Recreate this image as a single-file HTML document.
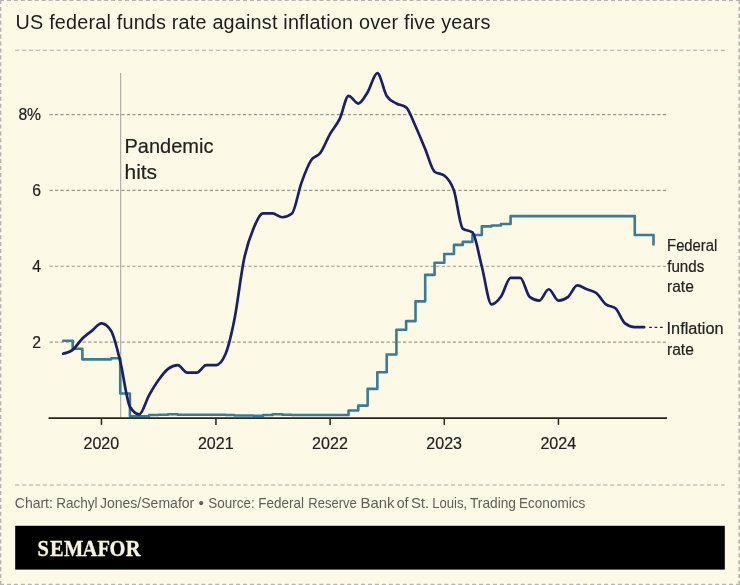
<!DOCTYPE html>
<html lang="en">
<head>
<meta charset="utf-8">
<title>US federal funds rate against inflation over five years</title>
<style>
html,body{margin:0;padding:0;background:#FCF9E7;}
body{width:740px;height:585px;overflow:hidden;}
svg{display:block;}
text{font-family:"Liberation Sans",Arial,Helvetica,sans-serif;}
.ax{font-size:17px;fill:#222;stroke:#222;stroke-width:0.2px;}
.lab{font-size:16px;fill:#222;stroke:#222;stroke-width:0.2px;}
.grid{stroke:#9b9a8e;stroke-width:1.15;stroke-dasharray:3.2 2.325;fill:none;}
.sep{stroke:#adaca2;stroke-width:1.1;stroke-dasharray:4.2 2.7186;fill:none;}
</style>
</head>
<body>
<svg width="740" height="585" viewBox="0 0 740 585">
<rect x="0" y="0" width="740" height="585" fill="#FCF9E7"/>
<!-- outer dashed frame -->
<g stroke="#b7b6ae" fill="none">
<line x1="0" y1="0.5" x2="740" y2="0.5" stroke-width="1.1" stroke-dasharray="4.05 2.893"/>
<line x1="0" y1="584.4" x2="740" y2="584.4" stroke-width="1.3" stroke-dasharray="4.05 2.893"/>
<line x1="0.7" y1="0" x2="0.7" y2="585" stroke-width="1.4" stroke-dasharray="4.05 2.866"/>
<line x1="739.2" y1="0" x2="739.2" y2="585" stroke-width="1.6" stroke-dasharray="4.05 2.866"/>
</g>

<!-- title -->
<text transform="translate(15.6,28.6) scale(1,1.04)" font-size="19.8" fill="#1d1d1d" textLength="474.8" lengthAdjust="spacing">US federal funds rate against inflation over five years</text>
<line class="sep" x1="15.1" y1="50.3" x2="725" y2="50.3"/>

<!-- gridlines -->
<g class="grid">
<line x1="49.5" y1="114.6" x2="666" y2="114.6"/>
<line x1="49.5" y1="190.4" x2="666" y2="190.4"/>
<line x1="49.5" y1="266.2" x2="666" y2="266.2"/>
<line x1="49.5" y1="342.1" x2="666" y2="342.1"/>
</g>
<!-- y labels -->
<g class="ax" text-anchor="end">
<text transform="translate(41.1,120.2) scale(0.925,1)">8%</text>
<text transform="translate(41.1,196) scale(0.925,1)">6</text>
<text transform="translate(41.1,271.8) scale(0.925,1)">4</text>
<text transform="translate(41.1,347.7) scale(0.925,1)">2</text>
</g>

<!-- pandemic marker -->
<line x1="120.65" y1="73" x2="120.65" y2="417.4" stroke="#b0afa5" stroke-width="1.2"/>
<text x="124.5" y="152.9" font-size="21" fill="#222" stroke="#222" stroke-width="0.2" textLength="88.9" lengthAdjust="spacingAndGlyphs">Pandemic</text>
<text x="124.5" y="179" font-size="21" fill="#222" stroke="#222" stroke-width="0.2" textLength="32.6" lengthAdjust="spacingAndGlyphs">hits</text>

<!-- series -->
<path d="M63.30,340.78H72.68V348.74H82.38V359.36H91.76H101.46H111.16V358.22H120.23V393.47H129.92V416.21H139.31H149.00V415.07H158.39V414.69H168.08V414.31H177.78V414.69H187.16H196.86H206.24H215.94H225.64V415.07H234.40V415.45H244.09H253.48V415.83H263.17V415.07H272.56V414.31H282.25V414.69H291.95V415.07H301.33H311.03H320.41H330.11H339.81H348.56V410.52H358.26V405.59H367.64V388.92H377.34V372.24H386.72V354.43H396.42V329.79H406.12V321.08H415.50V301.37H425.20V274.84H434.58V262.71H444.28V253.99H453.97V244.90H462.73V241.87H472.43V235.04H481.81V226.33H491.51V225.57H500.89V224.05H510.59V216.09H520.29H529.67H539.37H548.75H558.45H568.14H577.21H586.91H596.29H605.99H615.37H625.07H634.77V235.04H653.50V244.52" fill="none" stroke="#3d7a93" stroke-width="2.6" stroke-linejoin="round" stroke-linecap="round"/>
<path d="M63.30,353.67C66.43,353.00,69.56,352.33,72.68,349.88C75.92,347.35,79.15,341.70,82.38,338.51C85.51,335.42,88.64,333.42,91.76,330.93C95.00,328.36,98.23,323.35,101.46,323.35C104.69,323.35,107.92,325.88,111.16,330.93C114.18,335.66,117.20,349.17,120.23,361.25C123.46,374.16,126.69,401.51,129.92,406.73C133.05,411.78,136.18,414.31,139.31,414.31C142.54,414.31,145.77,401.12,149.00,395.36C152.13,389.79,155.26,384.57,158.39,380.20C161.62,375.68,164.85,371.36,168.08,368.83C171.32,366.30,174.55,365.04,177.78,365.04C180.91,365.04,184.04,372.62,187.16,372.62C190.40,372.62,193.63,372.62,196.86,372.62C199.99,372.62,203.12,365.04,206.24,365.04C209.48,365.04,212.71,365.04,215.94,365.04C219.17,365.04,222.41,361.25,225.64,353.67C228.56,346.82,231.48,334.20,234.40,319.56C237.63,303.35,240.86,274.17,244.09,258.92C247.22,244.16,250.35,236.14,253.48,228.60C256.71,220.81,259.94,213.44,263.17,213.44C266.30,213.44,269.43,213.44,272.56,213.44C275.79,213.44,279.02,217.23,282.25,217.23C285.48,217.23,288.72,215.97,291.95,213.44C295.08,210.99,298.20,191.86,301.33,183.12C304.56,174.08,307.80,165.43,311.03,160.38C314.16,155.49,317.29,157.09,320.41,152.80C323.65,148.37,326.88,139.54,330.11,133.85C333.34,128.17,336.57,125.50,339.81,118.69C342.73,112.54,345.64,95.95,348.56,95.95C351.80,95.95,355.03,103.53,358.26,103.53C361.39,103.53,364.52,97.09,367.64,92.16C370.88,87.06,374.11,73.21,377.34,73.21C380.47,73.21,383.60,91.06,386.72,95.95C389.96,101.00,393.19,101.64,396.42,103.53C399.65,105.43,402.89,104.79,406.12,107.32C409.25,109.77,412.37,119.45,415.50,126.27C418.73,133.31,421.97,141.30,425.20,149.01C428.33,156.47,431.45,169.30,434.58,171.75C437.81,174.28,441.05,173.01,444.28,175.54C447.51,178.07,450.74,180.95,453.97,190.70C456.89,199.50,459.81,226.32,462.73,228.60C465.96,231.13,469.20,229.86,472.43,232.39C475.56,234.84,478.68,254.71,481.81,266.50C485.04,278.68,488.28,304.40,491.51,304.40C494.64,304.40,497.76,301.11,500.89,296.82C504.12,292.39,507.36,277.87,510.59,277.87C513.82,277.87,517.05,277.87,520.29,277.87C523.41,277.87,526.54,294.37,529.67,296.82C532.90,299.35,536.13,300.61,539.37,300.61C542.49,300.61,545.62,289.24,548.75,289.24C551.98,289.24,555.21,300.61,558.45,300.61C561.68,300.61,564.91,299.35,568.14,296.82C571.17,294.46,574.19,285.45,577.21,285.45C580.45,285.45,583.68,287.96,586.91,289.24C590.04,290.48,593.17,290.58,596.29,293.03C599.53,295.56,602.76,301.87,605.99,304.40C609.12,306.85,612.25,305.66,615.37,308.19C618.61,310.80,621.84,320.82,625.07,323.35C628.30,325.88,631.53,327.14,634.77,327.14C637.89,327.14,641.02,327.14,644.15,327.14" fill="none" stroke="#1a2067" stroke-width="2.7" stroke-linejoin="round" stroke-linecap="round"/>
<line x1="649.2" y1="327.4" x2="663" y2="327.4" stroke="#1a2067" stroke-width="1.4" stroke-dasharray="2.7 2.7"/>

<!-- x axis -->
<line x1="48.5" y1="418.1" x2="667" y2="418.1" stroke="#26251f" stroke-width="1.6"/>
<g stroke="#26251f" stroke-width="1.5">
<line x1="101.46" y1="418.1" x2="101.46" y2="424.9"/>
<line x1="215.94" y1="418.1" x2="215.94" y2="424.9"/>
<line x1="330.11" y1="418.1" x2="330.11" y2="424.9"/>
<line x1="444.28" y1="418.1" x2="444.28" y2="424.9"/>
<line x1="558.45" y1="418.1" x2="558.45" y2="424.9"/>
</g>
<g class="ax" text-anchor="middle">
<text transform="translate(101.31,448.7) scale(0.945,1)">2020</text>
<text transform="translate(215.79,448.7) scale(0.945,1)">2021</text>
<text transform="translate(329.96,448.7) scale(0.945,1)">2022</text>
<text transform="translate(444.13,448.7) scale(0.945,1)">2023</text>
<text transform="translate(558.30,448.7) scale(0.945,1)">2024</text>
</g>

<!-- series labels -->
<g class="lab">
<text x="667.1" y="250.8" textLength="50.2" lengthAdjust="spacingAndGlyphs">Federal</text>
<text x="667.2" y="271.7" textLength="37" lengthAdjust="spacingAndGlyphs">funds</text>
<text x="667" y="292.4" textLength="26.8" lengthAdjust="spacingAndGlyphs">rate</text>
<text x="666.6" y="333.9" textLength="57" lengthAdjust="spacingAndGlyphs">Inflation</text>
<text x="667" y="354.7" textLength="26.8" lengthAdjust="spacingAndGlyphs">rate</text>
</g>

<!-- footer -->
<line class="sep" x1="15.1" y1="485" x2="725" y2="485"/>
<g font-size="15" fill="#5e5e5a">
<text x="14.8" y="507.5" textLength="38.1" lengthAdjust="spacingAndGlyphs">Chart:</text>
<text x="56.2" y="507.5" textLength="41.3" lengthAdjust="spacingAndGlyphs">Rachyl</text>
<text x="99.9" y="507.5" textLength="94.4" lengthAdjust="spacingAndGlyphs">Jones/Semafor</text>
<text x="198.4" y="507.5" textLength="5.4" lengthAdjust="spacingAndGlyphs">•</text>
<text x="208.3" y="507.5" textLength="46.5" lengthAdjust="spacingAndGlyphs">Source:</text>
<text x="258.3" y="507.5" textLength="45.7" lengthAdjust="spacingAndGlyphs">Federal</text>
<text x="308.3" y="507.5" textLength="48.4" lengthAdjust="spacingAndGlyphs">Reserve</text>
<text x="360.5" y="507.5" textLength="33.9" lengthAdjust="spacingAndGlyphs">Bank</text>
<text x="396.7" y="507.5" textLength="11.9" lengthAdjust="spacingAndGlyphs">of</text>
<text x="410.9" y="507.5" textLength="18.3" lengthAdjust="spacingAndGlyphs">St.</text>
<text x="432.2" y="507.5" textLength="34.9" lengthAdjust="spacingAndGlyphs">Louis,</text>
<text x="470.0" y="507.5" textLength="46.0" lengthAdjust="spacingAndGlyphs">Trading</text>
<text x="519.0" y="507.5" textLength="66.3" lengthAdjust="spacingAndGlyphs">Economics</text>
</g>
<rect x="15.2" y="525.8" width="709.6" height="43.8" fill="#000"/>
<text transform="translate(0,555.5) scale(0.86,1)" x="43.6 58.1 74.4 96.0 113.4 127.2 146.3" font-weight="700" font-size="23.8" fill="#F7F3DC" stroke="#F7F3DC" stroke-width="0.35" style="font-family:'Liberation Serif','Times New Roman',serif">SEMAFOR</text>
</svg>
</body>
</html>
